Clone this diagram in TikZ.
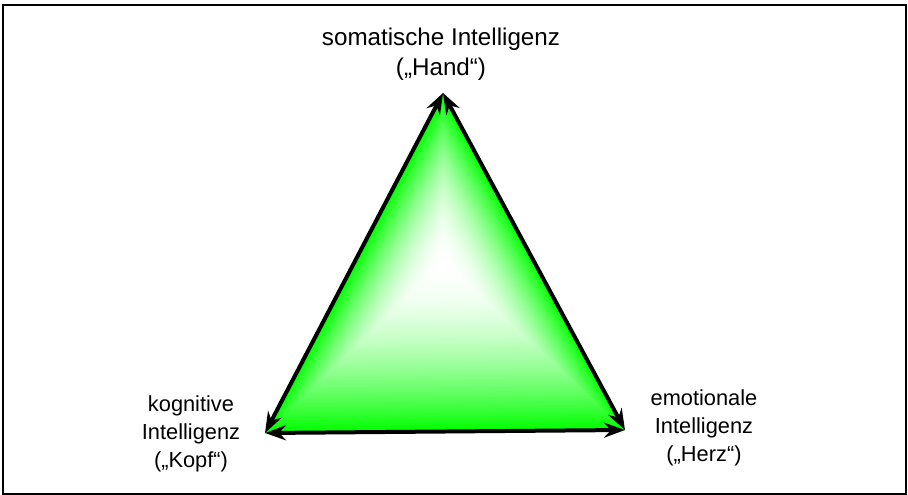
\documentclass[tikz,border=0pt]{standalone}
\usepackage{fontspec}
\setmainfont{Liberation Sans}
\usetikzlibrary{arrows.meta,calc}

\tikzset{
  frame/.style={draw=black, line width=2.5pt},
  edge/.style={draw=black, line width=4pt,
    {Stealth[length=21pt,width=15pt,inset=7pt]}-{Stealth[length=21pt,width=15pt,inset=7pt]}},
  % anchor=base sits on the baseline of the last line
  toplabel/.style={align=center, inner sep=0pt, anchor=base,
    font=\fontsize{24.2}{29}\selectfont},
  sidelabel/.style={align=center, inner sep=0pt, anchor=base,
    font=\fontsize{21.8}{28}\selectfont},
}

\begin{document}
\begin{tikzpicture}[x=1pt,y=-1pt]
  \useasboundingbox (0,0) rectangle (908,495);
  \draw[frame] (3,5) rectangle (906,494);

  % corners of the triangle and the centre of its gradient
  \coordinate (T) at (443,93);
  \coordinate (L) at (265,433);
  \coordinate (R) at (625,430);
  \coordinate (C) at (444,262);

  % gradient fill: nested copies shrinking towards the centre, green to white
  \foreach \i in {120,...,1} {
    \pgfmathsetmacro\s{\i/120}
    \pgfmathtruncatemacro\p{round(100*\s^1.9)}
    \fill[green!\p!white]
      ($(C)!\s!(T)$) -- ($(C)!\s!(L)$) -- ($(C)!\s!(R)$) -- cycle;
  }

  % edges, each a double-headed arrow
  \draw[edge] (L) -- (T);
  \draw[edge] (T) -- (R);
  \draw[edge] (L) -- (R);

  % labels
  \node[toplabel] (hand) at (441,75) {somatische Intelligenz\\(„Hand“)};
  \node[sidelabel] (kopf) at (191,467) {kognitive\\Intelligenz\\(„Kopf“)};
  \node[sidelabel] (herz) at (704,461) {emotionale\\Intelligenz\\(„Herz“)};
\end{tikzpicture}
\end{document}
